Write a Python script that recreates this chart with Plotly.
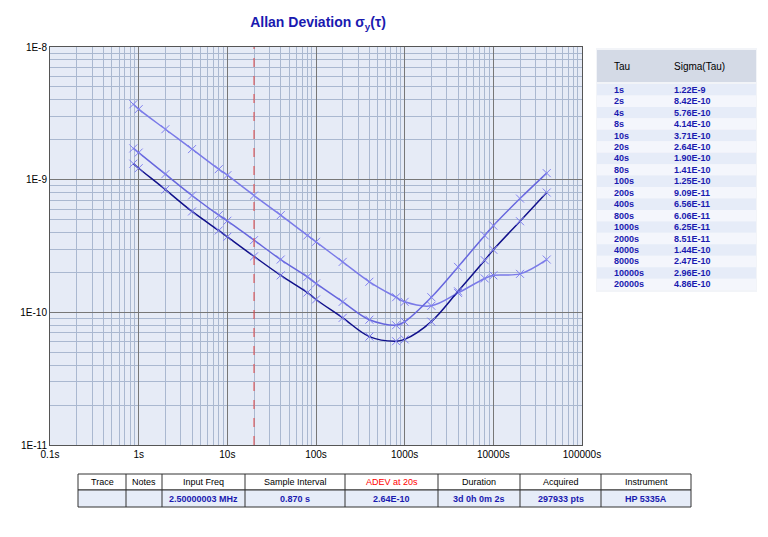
import plotly.graph_objects as go

tau = [0.87, 1, 2, 4, 8, 10, 20, 40, 80, 100, 200, 400, 800, 1000, 2000, 4000, 8000, 10000, 20000, 40000]
sigma_a = [1.32e-9, 1.22e-9, 8.42e-10, 5.76e-10, 4.14e-10, 3.71e-10, 2.64e-10, 1.90e-10, 1.41e-10, 1.25e-10,
           9.09e-11, 6.56e-11, 6.06e-11, 6.25e-11, 8.51e-11, 1.44e-10, 2.47e-10, 2.96e-10, 4.86e-10, 8.0e-10]
sigma_b = [1.72e-9, 1.6e-9, 1.1e-9, 7.6e-10, 5.4e-10, 4.9e-10, 3.5e-10, 2.5e-10, 1.85e-10, 1.65e-10,
           1.2e-10, 8.8e-11, 8.0e-11, 8.5e-11, 1.3e-10, 2.2e-10, 3.8e-10, 4.5e-10, 7.2e-10, 1.12e-9]
sigma_c = [3.7e-9, 3.4e-9, 2.4e-9, 1.7e-9, 1.2e-9, 1.08e-9, 7.6e-10, 5.4e-10, 3.8e-10, 3.4e-10,
           2.4e-10, 1.7e-10, 1.3e-10, 1.2e-10, 1.12e-10, 1.4e-10, 1.8e-10, 1.9e-10, 1.95e-10, 2.5e-10]

table_tau = ["1s", "2s", "4s", "8s", "10s", "20s", "40s", "80s", "100s", "200s", "400s", "800s",
             "1000s", "2000s", "4000s", "8000s", "10000s", "20000s"]
table_sigma = ["1.22E-9", "8.42E-10", "5.76E-10", "4.14E-10", "3.71E-10", "2.64E-10", "1.90E-10",
               "1.41E-10", "1.25E-10", "9.09E-11", "6.56E-11", "6.06E-11", "6.25E-11", "8.51E-11",
               "1.44E-10", "2.47E-10", "2.96E-10", "4.86E-10"]

info_head = ["Trace", "Notes", "Input Freq", "Sample Interval", "ADEV at 20s", "Duration", "Acquired", "Instrument"]
info_vals = ["", "", "2.50000003 MHz", "0.870 s", "2.64E-10", "3d 0h 0m 2s", "297933 pts", "HP 5335A"]
info_edges = [78, 126, 162, 245, 345, 438, 520, 601, 691]

x_ticks = [0.1, 1, 10, 100, 1000, 10000, 100000]
x_text = ["0.1s", "1s", "10s", "100s", "1000s", "10000s", "100000s"]
y_ticks = [1e-11, 1e-10, 1e-9, 1e-8]
y_text = ["1E-11", "1E-10", "1E-9", "1E-8"]

W, H = 768, 537
OFF = 8  # page body margin


def px(x):
    return (x - OFF) / W


def py(y):
    return 1 - (y - OFF) / H


fig = go.Figure()

for ys, col in [(sigma_c, "#7a7ae8"), (sigma_b, "#6666dd"), (sigma_a, "#10108a")]:
    fig.add_trace(go.Scatter(x=tau, y=ys, mode="lines+markers", line=dict(color=col, width=1.5, shape="spline"),
                             marker=dict(symbol="x-thin", size=8, line=dict(color="#8080f0", width=1)),
                             showlegend=False))

fig.add_shape(type="line", x0=20, x1=20, y0=0, y1=1, xref="x", yref="y domain",
              line=dict(color="#e04040", width=1, dash="dash"))


def box(x0, y0, x1, y1, fill, line=None):
    fig.add_shape(type="rect", xref="paper", yref="paper", x0=px(x0), x1=px(x1), y0=py(y1), y1=py(y0),
                  fillcolor=fill, line=dict(color=line or fill, width=1 if line else 0), layer="below")


def text(x, y, s, color, anchor="left", size=10):
    fig.add_annotation(x=px(x), y=py(y), xref="paper", yref="paper", text=s, showarrow=False,
                       xanchor=anchor, yanchor="middle", font=dict(family="Arial", size=size, color=color))


# right table
box(596, 48, 757, 292, "#f2f4f8")
box(597, 50, 756, 82, "#d4dae6")
text(612, 66, "Tau", "black")
text(672, 66, "Sigma(Tau)", "black")
row_h = 11.45
for i, (t, s) in enumerate(zip(table_tau, table_sigma)):
    y0 = 84 + i * row_h
    box(597, y0, 756, y0 + row_h, "#e6ecf8" if i % 2 == 0 else "#f4f6fc")
    text(612, y0 + row_h / 2, "<b>" + t + "</b>", "#1a1ab0", size=9)
    text(672, y0 + row_h / 2, "<b>" + s + "</b>", "#1a1ab0", size=9)

# bottom table
box(78, 474, 691, 490, "white", "#333")
box(78, 490, 691, 507, "#e6ecf8", "#333")
for i, (h, v) in enumerate(zip(info_head, info_vals)):
    cx = (info_edges[i] + info_edges[i + 1]) / 2
    if i > 0:
        fig.add_shape(type="line", xref="paper", yref="paper", x0=px(info_edges[i]), x1=px(info_edges[i]),
                      y0=py(507), y1=py(474), line=dict(color="#333", width=1))
    text(cx, 482, h, "red" if i == 4 else "black", "center", 9)
    if v:
        text(cx, 499, "<b>" + v + "</b>", "#1a1ab0", "center", 9)

fig.update_layout(
    width=W, height=H, margin=dict(l=0, r=0, t=0, b=0),
    paper_bgcolor="white", plot_bgcolor="#e6ebf6",
    title=dict(text="<b>Allan Deviation σ<sub>y</sub>(τ)</b>", x=px(318), xanchor="center", y=py(22),
               yanchor="middle", font=dict(family="Arial", size=14, color="#1a1ab0"), automargin=False),
    xaxis=dict(type="log", range=[-1, 5], domain=[px(50), px(582)], tickvals=x_ticks, ticktext=x_text,
               automargin=False, showgrid=True, gridcolor="#777", gridwidth=1, linecolor="#555", mirror=True,
               showline=True,
               minor=dict(showgrid=True, gridcolor="#aab8d0",
                          tickvals=[m * 10 ** e for e in range(-1, 5) for m in range(2, 10)]),
               tickfont=dict(family="Arial", size=10, color="black"), zeroline=False),
    yaxis=dict(type="log", range=[-11, -8], domain=[py(445), py(47)], tickvals=y_ticks, ticktext=y_text,
               automargin=False, showgrid=True, gridcolor="#777", gridwidth=1, linecolor="#555", mirror=True,
               showline=True,
               minor=dict(showgrid=True, gridcolor="#aab8d0",
                          tickvals=[m * 10 ** e for e in range(-11, -8) for m in range(2, 10)]),
               tickfont=dict(family="Arial", size=10, color="black"), zeroline=False),
)

fig.write_html("out.html")
